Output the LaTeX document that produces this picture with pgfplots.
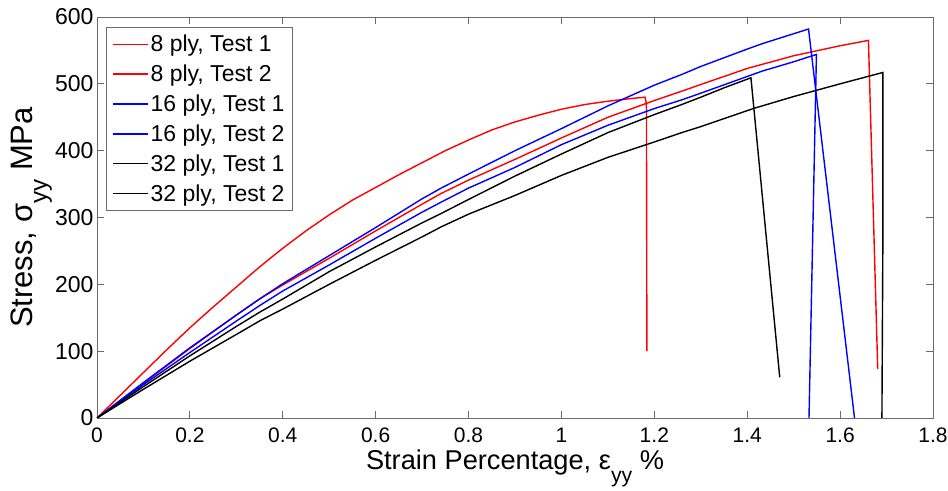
\documentclass[border=0pt]{standalone}
\usepackage{fontspec}
\setmainfont{Liberation Sans}
\usepackage{graphicx}
\usepackage{pgfplots}
\pgfplotsset{compat=1.18}
\definecolor{axgray}{rgb}{0.42,0.42,0.42}
\newcommand{\sub}[1]{\raisebox{-0.45em}{\scalebox{0.78}{#1}}}
\begin{document}
\begin{tikzpicture}
\begin{axis}[
  name=ax,
  scale only axis,
  width=836pt, height=401pt,
  xmin=0, xmax=1.8, ymin=0, ymax=600,
  xtick={0,0.2,0.4,0.6,0.8,1,1.2,1.4,1.6,1.8},
  ytick={0,100,200,300,400,500,600},
  /pgf/number format/assume math mode=true,
  tick align=inside,
  major tick length=7pt,
  axis line style={axgray, line width=0.9pt},
  every tick/.style={axgray, line width=0.9pt},
  xticklabel style={font=\fontsize{21}{24}\selectfont, anchor=base, yshift=-25pt},
  yticklabel style={font=\fontsize{23}{26}\selectfont},
  every axis x label/.style={at={(axis description cs:0.5,0)}, anchor=base, yshift=-52pt, font=\fontsize{27.2}{31}\selectfont},
  every axis y label/.style={at={(axis description cs:0,0.5)}, xshift=-64pt, rotate=90, anchor=base, font=\fontsize{31}{35}\selectfont},
  xlabel={Strain Percentage, ε\sub{yy} \%},
  ylabel={Stress, σ\sub{yy} MPa},
  legend style={at={(axis description cs:0,1)}, anchor=north west, xshift=9pt, yshift=-10pt,
    font=\fontsize{23}{27}\selectfont, draw=axgray, fill=white,
    inner xsep=6pt, inner ysep=6pt, row sep=7.7pt},
  legend cell align=left,
  legend image code/.code={\draw[mark repeat=2,mark phase=2,#1,line width=1.4pt] plot coordinates {(0pt,0pt) (17pt,0pt) (35pt,0pt)};},
]
\addplot[red, line width=1.4pt] coordinates {
(0,0) (0.05,34) (0.1,68) (0.15,102) (0.2,135) (0.25,166) (0.3,196) (0.35,226) (0.4,254) (0.45,280) (0.5,304) (0.55,326) (0.6,345) (0.65,364) (0.7,382) (0.75,400) (0.8,416) (0.85,431) (0.9,443) (0.95,453) (1.0,462) (1.05,469) (1.1,474) (1.15,478) (1.18,480) (1.183,470) (1.184,100)
};
\addlegendentry{8 ply, Test 1}
\addplot[red, line width=1.4pt] coordinates {
(0,0) (0.1,52) (0.2,104) (0.3,154) (0.352,179) (0.4,199) (0.5,239) (0.6,280) (0.7,320) (0.741,336) (0.8,356) (0.9,387) (1.0,419) (1.1,450) (1.2,475) (1.259,489) (1.3,499) (1.4,523) (1.5,542) (1.6,557) (1.661,565) (1.681,73)
};
\addlegendentry{8 ply, Test 2}
\addplot[blue, line width=1.4pt] coordinates {
(0,0) (0.1,53) (0.2,105) (0.3,154) (0.352,179) (0.4,201) (0.5,243) (0.6,285) (0.7,328) (0.741,344) (0.8,365) (0.9,400) (1.0,433) (1.1,467) (1.2,498) (1.259,514) (1.3,526) (1.4,552) (1.432,560) (1.5,575) (1.532,582) (1.631,0)
};
\addlegendentry{16 ply, Test 1}
\addplot[blue, line width=1.4pt] coordinates {
(0,0) (0.1,50) (0.2,98) (0.3,145) (0.352,169) (0.4,190) (0.5,229) (0.6,269) (0.7,308) (0.741,323) (0.8,344) (0.9,375) (1.0,409) (1.1,438) (1.2,463) (1.259,476) (1.3,486) (1.4,511) (1.432,519) (1.5,533) (1.549,544) (1.533,0)
};
\addlegendentry{16 ply, Test 2}
\addplot[black, line width=1.4pt] coordinates {
(0,0) (0.1,47) (0.2,93) (0.3,137) (0.352,159) (0.4,178) (0.5,219) (0.6,256) (0.7,292) (0.741,306) (0.8,327) (0.9,362) (1.0,395) (1.1,427) (1.2,454) (1.259,469) (1.3,480) (1.35,494) (1.408,509) (1.47,61)
};
\addlegendentry{32 ply, Test 1}
\addplot[black, line width=1.4pt] coordinates {
(0,0) (0.1,43) (0.2,85) (0.3,125) (0.352,146) (0.4,163) (0.5,200) (0.6,236) (0.7,271) (0.741,286) (0.8,305) (0.9,333) (1.0,363) (1.1,390) (1.2,413) (1.259,427) (1.3,436) (1.413,463) (1.5,481) (1.6,500) (1.692,517) (1.692,258) (1.690,0)
};
\addlegendentry{32 ply, Test 2}
\end{axis}
\pgfresetboundingbox
\path[use as bounding box] ([xshift=-97pt,yshift=-73pt]ax.south west) rectangle ([xshift=15pt,yshift=17pt]ax.north east);
\end{tikzpicture}
\end{document}
